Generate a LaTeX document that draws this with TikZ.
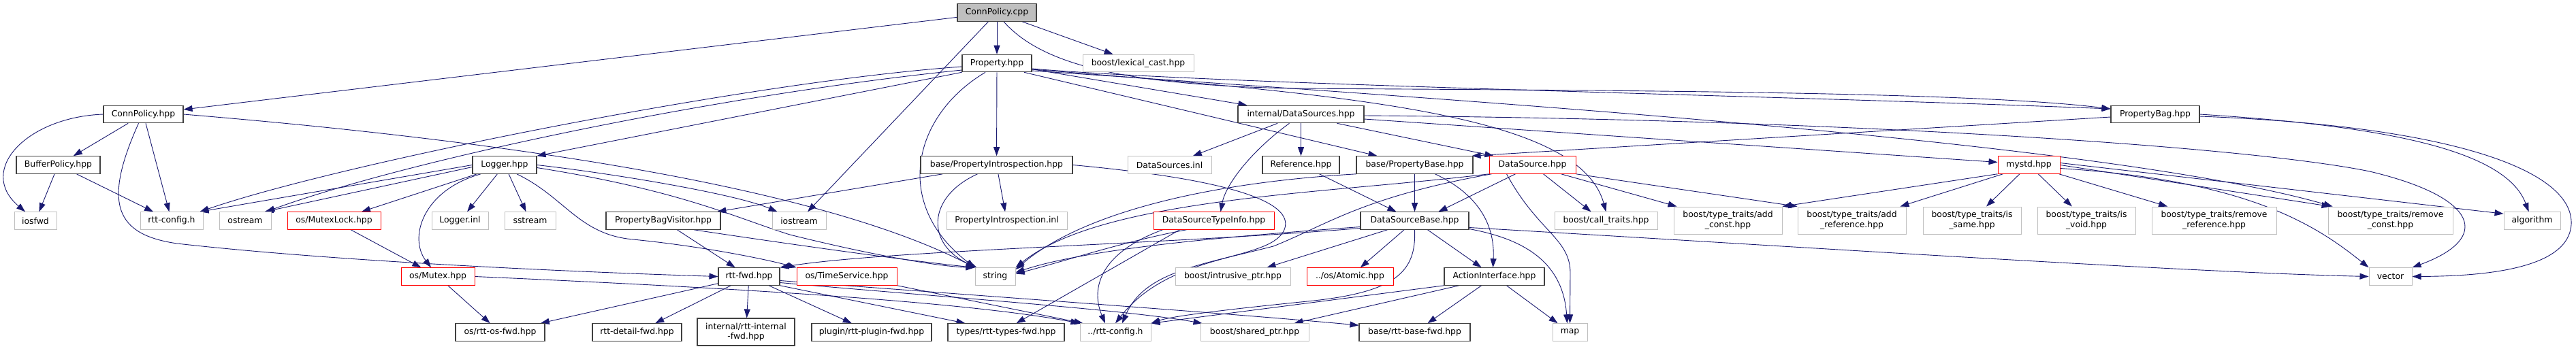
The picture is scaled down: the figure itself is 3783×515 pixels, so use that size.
\documentclass[tikz,border=0pt]{standalone}
\usepackage{fontspec}
\setmainfont{DejaVu Sans}
\usetikzlibrary{arrows.meta,backgrounds}
\definecolor{edgec}{RGB}{25,25,112}
\definecolor{docc}{RGB}{64,64,64}
\definecolor{extc}{RGB}{191,191,191}
\definecolor{trc}{RGB}{255,0,0}
\definecolor{cppfill}{RGB}{191,191,191}
\newcommand\nfnt{\fontsize{12.4}{14.7}\selectfont}
\tikzset{
  nodebase/.style={rectangle, inner sep=0pt, minimum height=25.5pt, font=\nfnt, align=center, fill=white},
  docbox/.style={nodebase, draw=docc, line width=1.1pt},
  extbox/.style={nodebase, draw=extc, line width=1pt},
  trbox/.style={nodebase, draw=trc, line width=1pt},
  rootbox/.style={nodebase, draw=docc, line width=1.1pt, fill=cppfill},
  twoline/.style={minimum height=40pt},
  depline/.style={draw=edgec, line width=0.9pt, -{Triangle[length=13pt,width=9pt]}},
}
\begin{document}
\begin{tikzpicture}[x=1pt,y=-1pt]
\useasboundingbox (0,0) rectangle (3783,515);
% row 0/1/2
\node[rootbox, minimum width=116pt] (cpp) at (1464,18.5) {ConnPolicy.cpp};
\node[docbox, minimum width=102pt] (prop) at (1464,93) {Property.hpp};
\node[extbox, minimum width=163pt] (lex) at (1671.5,93) {boost/lexical\_cast.hpp};
\node[docbox, minimum width=117pt] (cph) at (210.5,168) {ConnPolicy.hpp};
\node[docbox, minimum width=185pt] (dss) at (1910.5,168) {internal/DataSources.hpp};
\node[docbox, minimum width=130pt] (pbag) at (3165,168) {PropertyBag.hpp};
% row 3
\node[docbox, minimum width=123pt] (bpol) at (85.5,242.5) {BufferPolicy.hpp};
\node[docbox, minimum width=94pt] (log) at (741,242.5) {Logger.hpp};
\node[docbox, minimum width=223pt] (pint) at (1463.5,242.5) {base/PropertyIntrospection.hpp};
\node[extbox, minimum width=123pt] (dsinl) at (1717.5,242.5) {DataSources.inl};
\node[docbox, minimum width=113pt] (ref) at (1910.5,242.5) {Reference.hpp};
\node[docbox, minimum width=171pt] (pbase) at (2077.5,242.5) {base/PropertyBase.hpp};
\node[trbox, minimum width=127pt] (ds) at (2250.5,242.5) {DataSource.hpp};
\node[trbox, minimum width=91pt] (mystd) at (2979.5,242.5) {mystd.hpp};
% row 4
\node[extbox, minimum width=62pt] (iosfwd) at (52,324.5) {iosfwd};
\node[extbox, minimum width=92pt] (rttcfg) at (252,324.5) {rtt-config.h};
\node[extbox, minimum width=76pt] (ostream) at (360,324.5) {ostream};
\node[trbox, minimum width=137pt] (mlock) at (490.5,324.5) {os/MutexLock.hpp};
\node[extbox, minimum width=83pt] (loginl) at (675.5,324.5) {Logger.inl};
\node[extbox, minimum width=75pt] (sstream) at (778.5,324.5) {sstream};
\node[docbox, minimum width=168pt] (pbv) at (974,324.5) {PropertyBagVisitor.hpp};
\node[extbox, minimum width=79pt] (iostream) at (1173.5,324.5) {iostream};
\node[extbox, minimum width=177pt] (pinl) at (1478.5,324.5) {PropertyIntrospection.inl};
\node[trbox, minimum width=177pt] (dsti) at (1782.5,324.5) {DataSourceTypeInfo.hpp};
\node[docbox, minimum width=159pt] (dsb) at (2077.5,324.5) {DataSourceBase.hpp};
\node[extbox, minimum width=151pt] (ctr) at (2358.5,324.5) {boost/call\_traits.hpp};
\node[extbox, twoline, minimum width=159pt] (addc) at (2537.5,324) {boost/type\_traits/add\\\_const.hpp};
\node[extbox, twoline, minimum width=159pt] (addr) at (2719.5,324) {boost/type\_traits/add\\\_reference.hpp};
\node[extbox, twoline, minimum width=144pt] (issame) at (2896,324) {boost/type\_traits/is\\\_same.hpp};
\node[extbox, twoline, minimum width=144pt] (isvoid) at (3064,324) {boost/type\_traits/is\\\_void.hpp};
\node[extbox, twoline, minimum width=183pt] (remref) at (3251.5,324) {boost/type\_traits/remove\\\_reference.hpp};
\node[extbox, twoline, minimum width=183pt] (remc) at (3510.5,324) {boost/type\_traits/remove\\\_const.hpp};
\node[extbox, minimum width=83pt] (algo) at (3718.5,324.5) {algorithm};
% row 5
\node[trbox, minimum width=108pt] (mutex) at (643,406.5) {os/Mutex.hpp};
\node[docbox, minimum width=90pt] (rfwd) at (1100,406.5) {rtt-fwd.hpp};
\node[trbox, minimum width=147pt] (tsvc) at (1243.5,406.5) {os/TimeService.hpp};
\node[extbox, minimum width=59pt] (nstring) at (1461.5,406.5) {string};
\node[extbox, minimum width=169pt] (iptr) at (1810.5,406.5) {boost/intrusive\_ptr.hpp};
\node[trbox, minimum width=127pt] (atomic) at (1982.5,406.5) {../os/Atomic.hpp};
\node[docbox, minimum width=147pt] (act) at (2194.5,406.5) {ActionInterface.hpp};
\node[extbox, minimum width=63pt] (nvector) at (3510.5,406.5) {vector};
% row 6
\node[docbox, minimum width=131pt] (osfwd) at (734.5,488.5) {os/rtt-os-fwd.hpp};
\node[docbox, minimum width=131pt] (detfwd) at (935.5,488.5) {rtt-detail-fwd.hpp};
\node[docbox, twoline, minimum width=143pt] (intfwd) at (1095.5,488) {internal/rtt-internal\\-fwd.hpp};
\node[docbox, minimum width=176pt] (plgfwd) at (1280,488.5) {plugin/rtt-plugin-fwd.hpp};
\node[docbox, minimum width=171pt] (typfwd) at (1477.5,488.5) {types/rtt-types-fwd.hpp};
\node[extbox, minimum width=104pt] (rcfg2) at (1638,488.5) {../rtt-config.h};
\node[extbox, minimum width=159pt] (sptr) at (1842.5,488.5) {boost/shared\_ptr.hpp};
\node[docbox, minimum width=163pt] (bfwd) at (2077.5,488.5) {base/rtt-base-fwd.hpp};
\node[extbox, minimum width=51pt] (nmap) at (2305.5,488.5) {map};

\begin{pgfonlayer}{background}
\fill[white] (0,0) rectangle (3783,515);
% ConnPolicy.cpp
\draw[depline] (cpp) -- (cph);
\draw[depline] (cpp) -- (prop);
\draw[depline] (cpp) -- (iostream);
\draw[depline] (cpp) -- (lex);
\draw[depline] ([xshift=10pt]cpp.south) .. controls (1530,95) and (1650,125) .. (1900,130) .. controls (2400,133) and (2900,135) .. ([yshift=8pt]pbag.west);
% Property.hpp
\draw[depline] ([yshift=-5pt]prop.west) .. controls (1100,120) and (500,240) .. ([xshift=-5pt]rttcfg.north east);
\draw[depline] ([yshift=-10pt]prop.west) .. controls (1050,140) and (600,235) .. ([xshift=-8pt]ostream.north east);
\draw[depline] (prop.south west) -- (log.north east);
\draw[depline] ([xshift=-17pt]prop.south) .. controls (1340,170) and (1310,300) .. (nstring.north west);
\draw[depline] (prop) -- (pint);
\draw[depline] ([xshift=40pt]prop.south) -- ([xshift=-55pt]pbase.north);
\draw[depline] (prop) -- (dss);
\draw[depline] ([yshift=-8pt]prop.east) .. controls (1800,125) and (2600,140) .. ([yshift=8pt]pbag.west);
\draw[depline] ([yshift=-9pt]prop.east) .. controls (2000,140) and (2320,170) .. (ctr.north);
\draw[depline] ([yshift=-11pt]prop.east) .. controls (2200,150) and (3100,210) .. ([xshift=-85pt]remc.north);
% ConnPolicy.hpp
\draw[depline] (cph.west) .. controls (40,172) and (-35,250) .. ([xshift=-15pt]iosfwd.north);
\draw[depline] (cph) -- (bpol);
\draw[depline] (cph) -- (rttcfg);
\draw[depline] ([xshift=-7pt]cph.south) .. controls (150,300) and (170,345) .. (260,358) .. controls (500,385) and (850,400) .. (rfwd.west);
\draw[depline] (cph.east) .. controls (900,220) and (1250,300) .. (nstring.north west);
% BufferPolicy.hpp
\draw[depline] (bpol) -- (iosfwd);
\draw[depline] (bpol) -- (rttcfg);
% Logger.hpp
\draw[depline] (log.west) -- ([xshift=-5pt]rttcfg.north east);
\draw[depline] ([yshift=-3pt]log.west) -- ([xshift=-10pt]ostream.north east);
\draw[depline] (log) -- (mlock);
\draw[depline] ([xshift=-35pt]log.south) .. controls (620,280) and (600,350) .. ([xshift=-10pt]mutex.north);
\draw[depline] (log) -- (loginl);
\draw[depline] (log) -- (sstream);
\draw[depline] ([xshift=18pt]log.south) .. controls (830,290) and (850,345) .. (930,352) .. controls (1030,362) and (1120,380) .. (tsvc.north west);
\draw[depline] (log.east) .. controls (900,255) and (1080,285) .. ([xshift=8pt]iostream.north west);
\draw[depline] ([yshift=-4pt]log.east) .. controls (1000,280) and (1080,320) .. (1160,345) .. controls (1280,375) and (1380,392) .. (nstring.north west);
% os
\draw[depline] (mlock) -- (mutex);
\draw[depline] (mutex) -- (osfwd);
\draw[depline] (mutex.east) .. controls (1000,420) and (1400,440) .. (rcfg2.north west);
\draw[depline] (tsvc.south east) -- ([xshift=5pt]rcfg2.north west);
% PropertyBagVisitor.hpp
\draw[depline] (pbv) -- (rfwd);
\draw[depline] ([xshift=45pt]pbv.south) .. controls (1200,365) and (1350,385) .. (nstring.north west);
% PropertyIntrospection.hpp
\draw[depline] (pint) -- (pbv);
\draw[depline] ([xshift=-28pt]pint.south) .. controls (1360,290) and (1360,360) .. ([xshift=3pt]nstring.north west);
\draw[depline] (pint) -- (pinl);
\draw[depline] (pint.east) .. controls (1820,265) and (1905,300) .. (1885,340) .. controls (1860,385) and (1720,370) .. (rcfg2.north);
% DataSources.hpp
\draw[depline] (dss) -- (dsinl);
\draw[depline] ([xshift=-17pt]dss.south) .. controls (1840,220) and (1800,270) .. ([xshift=10pt]dsti.north);
\draw[depline] (dss) -- (ref);
\draw[depline] ([xshift=53pt]dss.south) -- ([xshift=-57pt]ds.north);
\draw[depline] ([yshift=-7pt]dss.east) -- ([yshift=4pt]mystd.west);
\draw[depline] ([yshift=-2pt]dss.east) .. controls (2700,175) and (3300,215) .. (3480,252) .. controls (3640,290) and (3660,350) .. (nvector.north east);
% Reference.hpp
\draw[depline] (ref) -- (dsb);
% DataSourceTypeInfo.hpp
\draw[depline] ([xshift=-40pt]dsti.south) .. controls (1650,355) and (1560,385) .. ([yshift=4pt]nstring.east);
\draw[depline] ([xshift=-50pt]dsti.south) -- ([xshift=15pt]typfwd.north);
\draw[depline] ([xshift=-75pt]dsti.south) .. controls (1620,370) and (1600,420) .. ([xshift=-15pt]rcfg2.north);
% PropertyBase.hpp
\draw[depline] (pbase) -- (dsb);
\draw[depline] ([xshift=30pt]pbase.south) .. controls (2180,290) and (2195,340) .. ([xshift=-2pt]act.north);
\draw[depline] (pbase.south west) .. controls (1750,270) and (1580,320) .. ([yshift=-3pt]nstring.north east);
% DataSource.hpp
\draw[depline] (ds.south west) .. controls (1950,285) and (1620,290) .. (nstring.north east);
\draw[depline] ([xshift=-25pt]ds.south) -- ([xshift=35pt]dsb.north);
\draw[depline] ([xshift=16pt]ds.south) -- ([xshift=-22pt]ctr.north);
\draw[depline] ([xshift=42pt]ds.south) -- ([xshift=5pt]addc.north west);
\draw[depline] (ds.south east) -- (addr.north west);
\draw[depline] ([xshift=-38pt]ds.south) .. controls (2258,340) and (2305,350) .. (2306,400) -- (nmap.north);
\draw[depline] ([xshift=-60pt]ds.south) .. controls (2000,290) and (1950,330) .. (1870,362) .. controls (1760,390) and (1680,400) .. ([xshift=10pt]rcfg2.north);
% mystd.hpp
\draw[depline] (mystd.south west) -- (addc.north east);
\draw[depline] ([xshift=8pt]mystd.south west) -- ([xshift=-9pt]addr.north east);
\draw[depline] (mystd) -- (issame);
\draw[depline] (mystd) -- (isvoid);
\draw[depline] (mystd) -- (remref);
\draw[depline] (mystd.east) -- ([xshift=-88pt]remc.north);
\draw[depline] ([yshift=-5pt]mystd.east) .. controls (3300,265) and (3400,330) .. (nvector.north west);
\draw[depline] ([yshift=3pt]mystd.east) -- ([yshift=-3pt]algo.north west);
% PropertyBag.hpp
\draw[depline] ([yshift=-4pt]pbag.west) -- ([xshift=-2pt]pbase.north east);
\draw[depline] (pbag.east) .. controls (3500,185) and (3680,220) .. ([xshift=-5pt]algo.north);
\draw[depline] ([yshift=-3pt]pbag.east) .. controls (3600,185) and (3780,250) .. (3776,330) .. controls (3772,395) and (3650,406) .. (nvector.east);
% DataSourceBase.hpp
\draw[depline] ([yshift=-9pt]dsb.west) .. controls (1800,348) and (1600,365) .. ([yshift=6pt]nstring.east);
\draw[depline] ([yshift=-11pt]dsb.west) .. controls (1700,360) and (1300,368) .. (rfwd.north east);
\draw[depline] ([xshift=-40pt]dsb.south) -- ([xshift=50pt]iptr.north);
\draw[depline] (dsb) -- (atomic);
\draw[depline] (dsb.south) .. controls (2080,400) and (2050,430) .. (1920,443) .. controls (1800,455) and (1720,465) .. (rcfg2.north east);
\draw[depline] (dsb) -- (act);
\draw[depline] ([yshift=-10pt]dsb.east) .. controls (2600,360) and (3200,400) .. (nvector.west);
\draw[depline] ([yshift=-12pt]dsb.east) .. controls (2230,350) and (2295,380) .. ([xshift=-4pt]nmap.north);
% ActionInterface.hpp
\draw[depline] (act.south west) -- (rcfg2.north east);
\draw[depline] ([xshift=-52pt]act.south) -- ([xshift=58pt]sptr.north);
\draw[depline] (act) -- (bfwd);
\draw[depline] (act) -- (nmap);
% rtt-fwd.hpp
\draw[depline] (rfwd) -- (osfwd);
\draw[depline] (rfwd) -- (detfwd);
\draw[depline] (rfwd) -- (intfwd);
\draw[depline] (rfwd) -- (plgfwd);
\draw[depline] (rfwd.south east) -- ([xshift=-60pt]typfwd.north);
\draw[depline] ([yshift=-6pt]rfwd.east) .. controls (1400,432) and (1800,460) .. ([yshift=-3pt]bfwd.north west);
\draw[depline] ([yshift=-9pt]rfwd.east) .. controls (1400,438) and (1650,455) .. ([xshift=3pt]sptr.north west);
\end{pgfonlayer}
\end{tikzpicture}
\end{document}
